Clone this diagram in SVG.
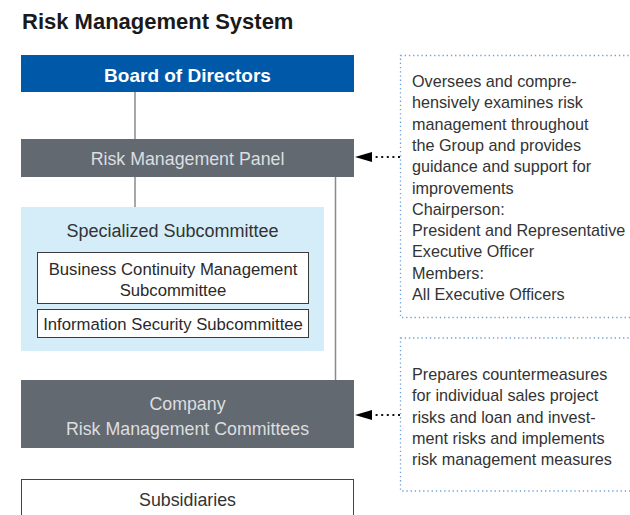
<svg xmlns="http://www.w3.org/2000/svg" width="630" height="515" viewBox="0 0 630 515">
  <style>
    text { font-family: "Liberation Sans", Arial, Helvetica, sans-serif; }
    .title { font-size: 22px; font-weight: bold; fill: #1a1a1a; }
    .board { fill: #0058a9; }
    .boardtxt { font-size: 19px; font-weight: bold; fill: #ffffff; text-anchor: middle; }
    .gray { fill: #626970; }
    .graytxt { font-size: 17.8px; fill: #dcdee0; text-anchor: middle; }
    .spec { fill: #d4edf9; }
    .spectxt { font-size: 18px; fill: #333333; text-anchor: middle; }
    .inner { fill: #ffffff; stroke: #3a3a3a; stroke-width: 1; }
    .innertxt { font-size: 16.7px; fill: #2a2a2a; text-anchor: middle; }
    .sub { fill: #ffffff; stroke: #444444; stroke-width: 1; }
    .subtxt { font-size: 17.8px; fill: #333333; text-anchor: middle; }
    .note { fill: none; stroke: #6d9fd6; stroke-width: 1.3; stroke-dasharray: 1.3 2.9; }
    .notetxt { font-size: 16.2px; fill: #333333; }
    .link { stroke: #8a8a8a; stroke-width: 1.5; fill: none; }
    .dots { stroke: #111111; stroke-width: 2; stroke-dasharray: 2 3.6; fill: none; }
    .head { fill: #000000; }
  </style>

  <text class="title" x="22" y="29">Risk Management System</text>

  <!-- connectors: reporting lines and dotted note pointers -->
  <g id="connectors">
    <line class="link" x1="135" y1="92" x2="135" y2="139"/>
    <line class="link" x1="135" y1="177" x2="135" y2="207"/>
    <line class="link" x1="335.5" y1="177" x2="335.5" y2="380"/>
    <line class="dots" x1="400" y1="157" x2="373" y2="157"/>
    <path class="head" d="M355,157 L372,152 L372,162 Z"/>
    <line class="dots" x1="400" y1="415" x2="373" y2="415"/>
    <path class="head" d="M355,415 L372,410 L372,420 Z"/>
  </g>

  <g id="board">
    <rect class="board" x="21" y="55" width="333" height="37"/>
    <text class="boardtxt" x="187.5" y="82">Board of Directors</text>
  </g>

  <g id="panel">
    <rect class="gray" x="21" y="139" width="333" height="38"/>
    <text class="graytxt" x="187.5" y="165">Risk Management Panel</text>
  </g>

  <g id="specialized">
    <rect class="spec" x="21" y="207" width="303" height="144"/>
    <text class="spectxt" x="172.5" y="237">Specialized Subcommittee</text>
  </g>

  <g id="bcm">
    <rect class="inner" x="37.5" y="252.5" width="271" height="51"/>
    <text class="innertxt" x="173" y="275">Business Continuity Management</text>
    <text class="innertxt" x="173" y="296">Subcommittee</text>
  </g>

  <g id="infosec">
    <rect class="inner" x="37.5" y="309.5" width="271" height="28"/>
    <text class="innertxt" x="173" y="330">Information Security Subcommittee</text>
  </g>

  <g id="company">
    <rect class="gray" x="21" y="380" width="333" height="68"/>
    <text class="graytxt" x="187.5" y="410">Company</text>
    <text class="graytxt" x="187.5" y="435">Risk Management Committees</text>
  </g>

  <g id="subsidiaries">
    <rect class="sub" x="21.5" y="479.5" width="332" height="50"/>
    <text class="subtxt" x="187.5" y="506">Subsidiaries</text>
  </g>

  <g id="panel-note">
    <rect class="note" x="400.5" y="55.5" width="240" height="262"/>
    <text class="notetxt" x="412" y="87">Oversees and compre-</text>
    <text class="notetxt" x="412" y="108.3">hensively examines risk</text>
    <text class="notetxt" x="412" y="129.6">management throughout</text>
    <text class="notetxt" x="412" y="150.9">the Group and provides</text>
    <text class="notetxt" x="412" y="172.2">guidance and support for</text>
    <text class="notetxt" x="412" y="193.5">improvements</text>
    <text class="notetxt" x="412" y="214.8">Chairperson:</text>
    <text class="notetxt" x="412" y="236.1">President and Representative</text>
    <text class="notetxt" x="412" y="257.4">Executive Officer</text>
    <text class="notetxt" x="412" y="278.7">Members:</text>
    <text class="notetxt" x="412" y="300">All Executive Officers</text>
  </g>

  <g id="company-note">
    <rect class="note" x="400.5" y="338" width="240" height="153"/>
    <text class="notetxt" x="412" y="380">Prepares countermeasures</text>
    <text class="notetxt" x="412" y="401.3">for individual sales project</text>
    <text class="notetxt" x="412" y="422.6">risks and loan and invest-</text>
    <text class="notetxt" x="412" y="443.9">ment risks and implements</text>
    <text class="notetxt" x="412" y="465.2">risk management measures</text>
  </g>
</svg>
